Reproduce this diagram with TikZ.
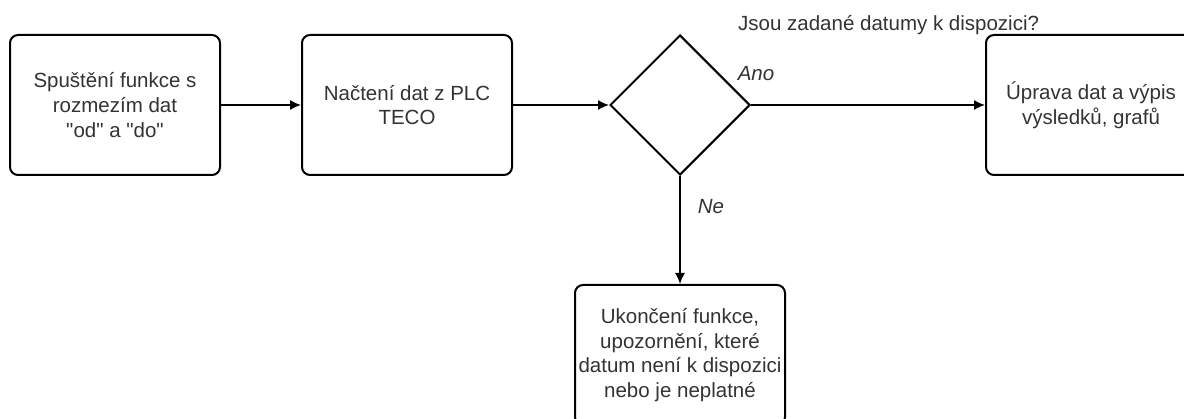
\documentclass[tikz,border=0pt]{standalone}
\usepackage{fontspec}
\setmainfont{Liberation Sans}
\usetikzlibrary{arrows.meta, shapes.geometric, positioning}

\tikzset{
	box/.style={draw, rounded corners=8pt, line width=2pt, minimum width=210pt, minimum height=140pt, inner sep=2pt, align=center, text=black!80, font=\fontsize{20.5}{24.6}\selectfont},
	decision/.style={draw, diamond, line width=2pt, minimum width=140pt, minimum height=140pt, inner sep=0pt},
	lbl/.style={inner sep=0pt, text=black!80, font=\fontsize{20.5}{24.6}\selectfont},
}

\begin{document}
\begin{tikzpicture}[x=1pt,y=-1pt,->,>={Latex[length=11pt,width=10pt]},every edge/.append style={line width=1.5pt}]
	\useasboundingbox (0,0) rectangle (1184,419);
	\clip (0,0) rectangle (1184,419);
	\node[box] (start) at (115,105) {Spuštění funkce s\\rozmezím dat\\\textquotedbl od\textquotedbl{} a \textquotedbl do\textquotedbl};
	\node[box] (load) [right=80pt of start] {Načtení dat z PLC\\TECO};
	\node[decision] (check) [right=96pt of load] {};
	\node[box] (result) [right=234pt of check] {Úprava dat a výpis\\výsledků, grafů};
	\node[box] (stop) [below=108pt of check] {Ukončení funkce,\\upozornění, které\\datum není k dispozici\\nebo je neplatné};
	\node[lbl, anchor=base west] (question) at (738,31) {Jsou zadané datumy k dispozici?};
	\path(start)
		edge[->] (load);
	\path(load)
		edge[->] (check);
	\path(check)
		edge[->] node[lbl, pos=0, anchor=base west, xshift=-14pt, yshift=24pt] {\itshape Ano} (result)
		edge[->] node[lbl, pos=0, anchor=base west, xshift=17pt, yshift=-38pt] {\itshape Ne} (stop);
\end{tikzpicture}
\end{document}
